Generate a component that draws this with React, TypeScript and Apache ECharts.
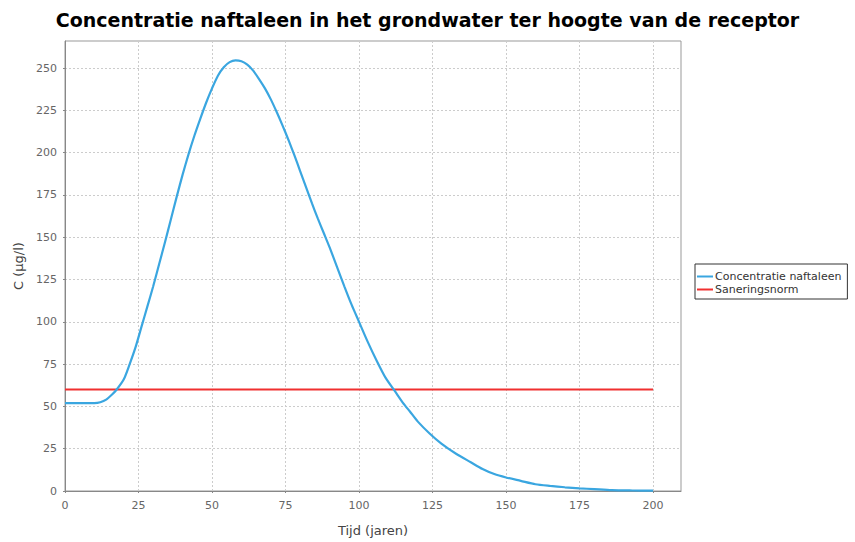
import React, { useEffect, useRef } from "react";
import * as echarts from "echarts";

// Tijd (jaren) and concentratie (µg/l) along the curve
const tijd = [
  0, 5, 10, 12, 14, 16, 17.6, 20, 22, 24, 26, 28, 30, 32, 34, 36, 38, 40, 42, 44, 46, 48, 50, 52, 54, 56, 58,
  60, 62, 64, 66, 68, 70, 72, 74, 76, 78, 80, 82, 84, 86, 88, 90, 92.5, 95, 97.5, 100, 103, 106, 109, 112.2,
  115, 117.3, 120, 124, 128, 133, 138, 142, 146, 150, 155, 160, 165, 170, 175, 180, 186, 193, 200,
];
const concentratie = [
  52, 52, 52, 52.5, 54, 57, 60, 66, 75, 85, 97, 109, 121, 134, 147, 160.5, 174, 187, 199, 210, 220, 229.5, 238,
  245.5, 250.5, 253.5, 254.5, 254, 252, 248.5, 243.5, 238, 231.5, 224, 216, 207.5, 198.5, 189, 179.5, 170, 161,
  152.5, 144, 132.5, 121, 110, 100, 88, 77, 67, 59, 52, 47, 41, 34, 28, 22, 17, 13, 10, 8, 6, 4, 3, 2.2, 1.6, 1.1,
  0.5, 0.3, 0.2,
];

// Saneringsnorm (µg/l), constant over the period
const normTijd = [0, 200];
const normWaarde = [60, 60];

const titel = "Concentratie naftaleen in het grondwater ter hoogte van de receptor";
const serieNamen = ["Concentratie naftaleen", "Saneringsnorm"];

export default function App() {
  const ref = useRef<HTMLDivElement>(null);

  useEffect(() => {
    document.body.style.margin = "0";
    if (!ref.current) return;
    const chart = echarts.init(ref.current, undefined, { renderer: "svg" });
    const tickFont = { fontFamily: "DejaVu Sans", fontSize: 11, color: "#666" };
    chart.setOption({
      animation: false,
      backgroundColor: "#fff",
      title: {
        text: titel,
        left: "center",
        top: 5,
        textStyle: { fontFamily: "DejaVu Sans", fontWeight: "bold", fontSize: 19, color: "#000" },
      },
      legend: {
        data: serieNamen,
        orient: "vertical",
        left: 695,
        top: 264,
        icon: "rect",
        itemWidth: 16,
        itemHeight: 2,
        itemGap: 2,
        padding: [7, 6, 4, 2],
        borderColor: "#333",
        borderWidth: 1,
        textStyle: { fontFamily: "DejaVu Sans", fontSize: 11, color: "#333", padding: [0, 0, 0, -3] },
      },
      grid: {
        left: 65,
        right: 174,
        top: 41,
        bottom: 51,
        show: true,
        borderColor: "#999",
        borderWidth: 1,
      },
      xAxis: {
        type: "value",
        min: 0,
        max: 209.5,
        interval: 25,
        offset: 4,
        name: "Tijd (jaren)",
        nameLocation: "middle",
        nameGap: 29,
        nameTextStyle: { fontFamily: "DejaVu Sans", fontSize: 13, color: "#444" },
        axisLine: { show: true, lineStyle: { color: "#888" } },
        axisTick: { show: true, length: 2, lineStyle: { color: "#888" } },
        axisLabel: { ...tickFont, margin: 5, showMaxLabel: false },
        splitLine: { show: true, lineStyle: { color: "#ccc", type: [2, 2] } },
      },
      yAxis: {
        type: "value",
        min: 0,
        max: 266,
        interval: 25,
        offset: 3,
        name: "C (µg/l)",
        nameLocation: "middle",
        nameGap: 37,
        nameTextStyle: { fontFamily: "DejaVu Sans", fontSize: 13, color: "#444" },
        axisLine: { show: true, lineStyle: { color: "#888" } },
        axisTick: { show: true, length: 2, lineStyle: { color: "#888" } },
        axisLabel: { ...tickFont, margin: 5, showMaxLabel: false },
        splitLine: { show: true, lineStyle: { color: "#ccc", type: [2, 2] } },
      },
      series: [
        {
          name: serieNamen[0],
          type: "line",
          data: tijd.map((t, i) => [t, concentratie[i]]),
          smooth: 0.25,
          showSymbol: false,
          lineStyle: { color: "#3aa6e0", width: 2.2 },
          itemStyle: { color: "#3aa6e0" },
          z: 3,
        },
        {
          name: serieNamen[1],
          type: "line",
          data: normTijd.map((t, i) => [t, normWaarde[i]]),
          showSymbol: false,
          lineStyle: { color: "#f03030", width: 1.8 },
          itemStyle: { color: "#f03030" },
          z: 2,
        },
      ],
    });
    return () => chart.dispose();
  }, []);

  return <div ref={ref} style={{ width: 855, height: 542 }} />;
}
